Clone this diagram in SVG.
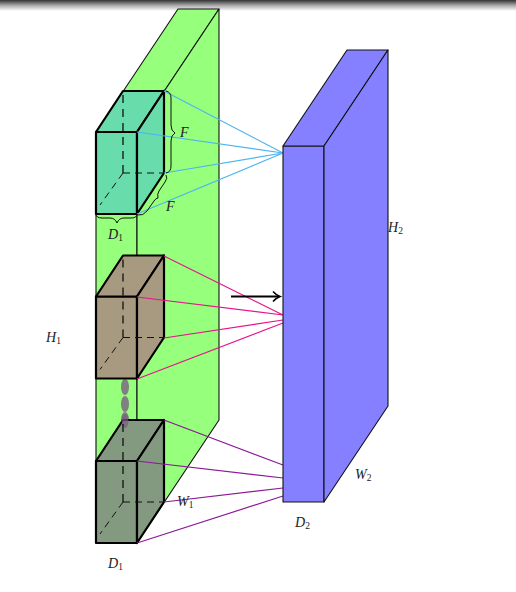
<svg xmlns="http://www.w3.org/2000/svg" width="516" height="592" viewBox="0 0 516 592">
<style>
text{font-family:"Liberation Serif","Times New Roman",serif;font-style:italic;font-size:14px;fill:#222}
.sub{font-size:9.500px;font-style:normal}
.slab{stroke:#111;stroke-width:1.100;stroke-linejoin:round}
.g{fill:#96ff7c}
.b{fill:#8580ff}
.c{stroke:#000;stroke-width:2.200;stroke-linejoin:round}
.d{fill:none;stroke:#111;stroke-width:1.300;stroke-dasharray:8 6}
.d2{fill:none;stroke:#111;stroke-width:1;stroke-dasharray:7 5}
.brace{fill:none;stroke:#111;stroke-width:1}
.cy{stroke:#4fb4f0;stroke-width:1.200;fill:none}
.mg{stroke:#e6148c;stroke-width:1.200;fill:none}
.pu{stroke:#8b1a96;stroke-width:1.200;fill:none}
</style>
<defs>
<linearGradient id="bar" x1="0" y1="0" x2="0" y2="1"><stop offset="0" stop-color="#333"/><stop offset="0.5" stop-color="#aaa"/><stop offset="1" stop-color="#fff"/></linearGradient>
<g id="cube">
<path d="M96 132V214H137V132Z"/>
<path d="M96 132L123 91H164L137 132Z"/>
<path d="M137 132L164 91V173L137 214Z"/>
</g>
</defs>
<rect x="0" y="0" width="516" height="11" fill="url(#bar)"/>
<g id="slab-1">
<path class="slab g" d="M96 132V543H137V132Z"/>
<path class="slab g" d="M96 132L178 9H219L137 132Z"/>
<path class="slab g" d="M137 132L219 9V420L137 543Z"/>
</g>
<g id="dots" fill="#808080">
<ellipse cx="125" cy="387" rx="4" ry="8"/>
<ellipse cx="125" cy="404" rx="4" ry="8"/>
<ellipse cx="125" cy="420" rx="4" ry="8"/>
</g>
<g id="cube-1">
<use href="#cube" class="c" fill="#69dcac"/>
<path class="d" d="M123 95V173"/><path class="d2" d="M123 173H164M123 173L100 205"/>
</g>
<g id="cube-2">
<use href="#cube" class="c" fill="#a89a80" y="164.500"/>
<path class="d" d="M123 259.500V337.500"/><path class="d2" d="M123 337.500H164M123 337.500L100 369.500"/>
</g>
<g id="cube-3">
<use href="#cube" class="c" fill="#849a80" y="329"/>
<ellipse cx="125" cy="421" rx="3.500" ry="7" fill="#7a5a80" fill-opacity="0.700"/>
<path class="d" d="M123 424V502"/><path class="d2" d="M123 502H164M123 502L100 534"/>
</g>
<g id="connectors">
<path class="cy" d="M164 91L283 153M137 132L283 153M164 173L283 153M137 214L283 153"/>
<path class="mg" d="M164 256L283 315M137 297L283 315M164 338L283 320M137 379L283 323"/>
<path class="pu" d="M164 420L283 465M137 461L283 478M164 502L283 488M137 543L283 496"/>
<path d="M231 296.500H279" fill="none" stroke="#000" stroke-width="2"/>
<path d="M273 291.500Q276 295 280 296.500Q276 298 273 301.500" fill="none" stroke="#000" stroke-width="1.600"/>
</g>
<g id="slab-2">
<path class="slab b" d="M283 146V502H324V146Z"/>
<path class="slab b" d="M283 146L347 50H388L324 146Z"/>
<path class="slab b" d="M324 146L388 50V406L324 502Z"/>
</g>
<g id="braces">
<path class="brace" d="M166 91Q171 92 171 98V125Q171 131 175 133Q171 135 171 141V166Q171 172 166 173"/>
<path class="brace" d="M96 214Q96 218 102 218H110Q115 218 117 223Q119 218 124 218H131Q137 218 137 214"/>
<path class="brace" d="M138 215Q143 216 147 211L154 201Q156 198 158 198Q157 194 159 191L165 182Q168 178 166 175"/>
</g>
<g id="labels">
<text x="180" y="137">F</text>
<text x="166" y="211">F</text>
<text x="108" y="239">D<tspan class="sub" dy="2">1</tspan></text>
<text x="46" y="342">H<tspan class="sub" dy="2">1</tspan></text>
<text x="108" y="568">D<tspan class="sub" dy="2">1</tspan></text>
<text x="177" y="506">W<tspan class="sub" dy="2">1</tspan></text>
<text x="295" y="527">D<tspan class="sub" dy="2">2</tspan></text>
<text x="355" y="479">W<tspan class="sub" dy="2">2</tspan></text>
<text x="388" y="232">H<tspan class="sub" dy="2">2</tspan></text>
</g>
</svg>
